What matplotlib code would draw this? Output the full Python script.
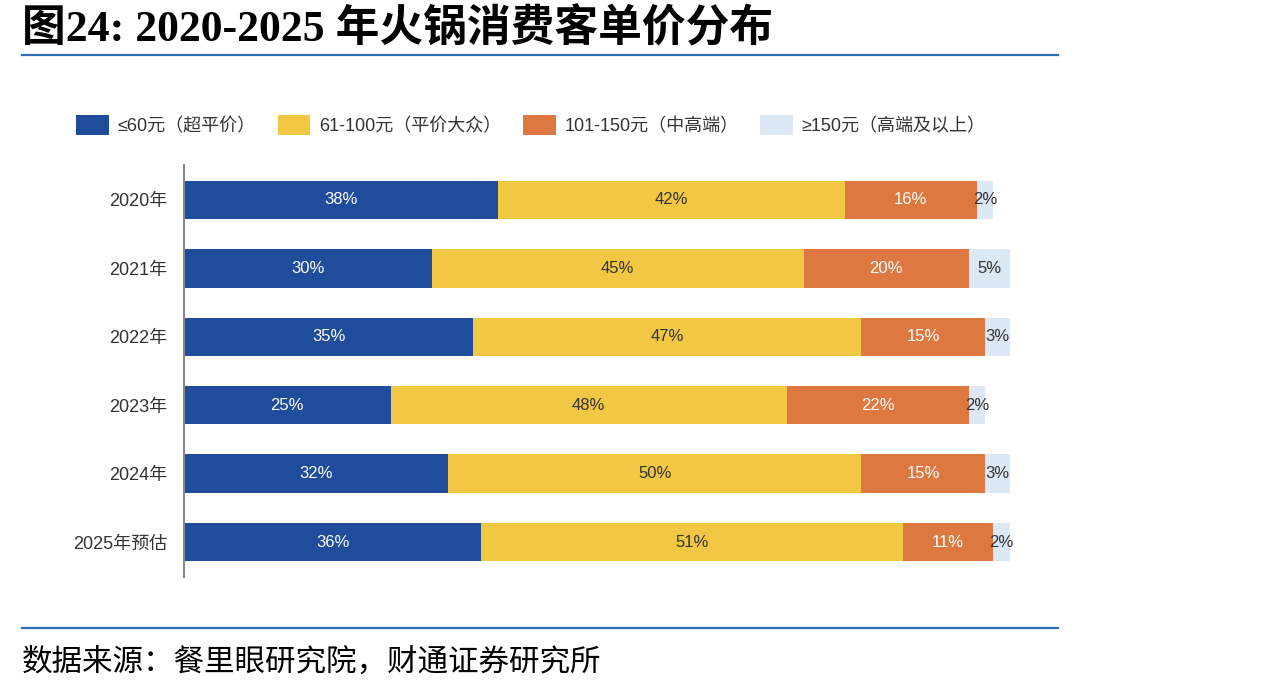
import matplotlib.pyplot as plt
from matplotlib.lines import Line2D
import numpy as np

plt.rcParams['font.family'] = ['Liberation Sans', 'Noto Sans CJK SC', 'DejaVu Sans']

# 数据
years = ['2020年', '2021年', '2022年', '2023年', '2024年', '2025年预估']
low = [38, 30, 35, 25, 32, 36]
mid = [42, 45, 47, 48, 50, 51]
high = [16, 20, 15, 22, 15, 11]
top = [2, 5, 3, 2, 3, 2]
series_names = ['≤60元（超平价）', '61-100元（平价大众）', '101-150元（中高端）', '≥150元（高端及以上）']
colors = ['#1f4c9b', '#f2c744', '#dc7840', '#dce8f5']
text_colors = ['white', '#333333', 'white', '#333333']

fig = plt.figure(figsize=(12.74, 6.93), dpi=100)

# 标题和来源
fig.text(22 / 1274, 1 - 29 / 693, '图24: 2020-2025 年火锅消费客单价分布',
         fontsize=31.5, fontweight='bold', va='center', ha='left',
         family=['Liberation Serif', 'Noto Sans CJK SC'])
fig.add_artist(Line2D([22 / 1274, 1058 / 1274], [1 - 55 / 693] * 2, color='#2e6db4', lw=1.6))
fig.add_artist(Line2D([22 / 1274, 1058 / 1274], [1 - 628 / 693] * 2, color='#2e6db4', lw=1.6))
fig.text(22 / 1274, 1 - 662 / 693, '数据来源：餐里眼研究院，财通证券研究所',
         fontsize=22, va='center', ha='left', family=['Noto Sans CJK SC'])

ax = fig.add_axes([184 / 1274, 1 - 577 / 693, (1010 - 184) / 1274, (577 - 165) / 693])

y = np.arange(len(years))
left = np.zeros(len(years))
handles = []
for vals, name, c, tc in zip([low, mid, high, top], series_names, colors, text_colors):
    bars = ax.barh(y, vals, left=left, height=0.56, color=c, label=name)
    handles.append(bars)
    for yi, v, l in zip(y, vals, left):
        ax.text(l + v / 2, yi, f'{v}%', ha='center', va='center', color=tc, fontsize=12,
                family=['Liberation Sans Narrow', 'Liberation Sans'])
    left = left + np.array(vals)

ax.set_xlim(0, 100)
ax.set_ylim(len(years) - 0.5 + 0.01, -0.51)
ax.set_yticks(y)
ax.set_yticklabels(years, fontsize=13, color='#333333')
ax.tick_params(axis='y', length=0, pad=12)
ax.set_xticks([])
for s in ['top', 'right', 'bottom']:
    ax.spines[s].set_visible(False)
ax.spines['left'].set_color('#888888')
ax.spines['left'].set_linewidth(1.5)

fig.legend(handles=handles, labels=series_names, loc='center left', ncol=4,
           bbox_to_anchor=(60 / 1274, 1 - 125 / 693), frameon=False, fontsize=13,
           handlelength=1.8, handleheight=1.3, handletextpad=0.5, columnspacing=1.2,
           labelcolor='#333333')

fig.savefig('out.png', dpi=100)
